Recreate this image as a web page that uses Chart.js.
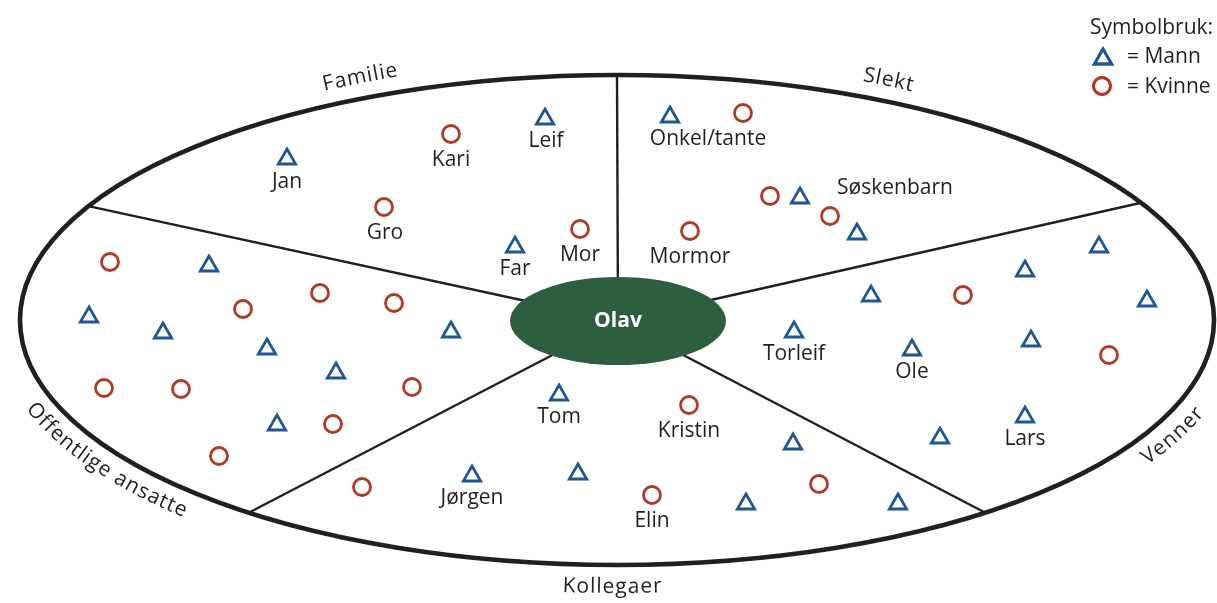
<!DOCTYPE html>
<html><head><meta charset="utf-8">
<script src="https://cdn.jsdelivr.net/npm/chart.js@4"></script>
<style>html,body{margin:0;padding:0;background:#fff}#wrap{width:1217px;height:603px;position:relative}</style>
</head><body><div id="wrap"><canvas id="c"></canvas></div>
<script>
// ---- data (diagram coordinates) ----
const mennX = [545,287,515,670,800,857,209,89,163,267,451,336,277,559,793,472,578,746,898,1099,1025,871,1147,794,912,1031,1025,940];
const mennY = [119,159,247,117,198,234,266,317,333,349,332,373,425,395,444,476,474,504,504,247,271,296,301,332,350,341,417,438];
const kvinnerX = [451,384,580,743,770,830,690,110,243,320,394,104,181,412,333,219,689,362,652,819,963,1109];
const kvinnerY = [134,207,229,113,196,216,231,262,309,293,303,388,389,387,424,456,405,487,495,484,295,355];
const navn  = ['Leif','Kari','Jan','Gro','Far','Mor','Onkel/tante','Søskenbarn','Mormor','Tom','Kristin','Jørgen','Elin','Torleif','Ole','Lars'];
const navnX = [546,451,287,385,515,580,708,895,690,559,689,472,652,794,912,1025];
const navnY = [141,160,182,233,269,255,139,188,257,417,431,498,521,354,372,439];
const sektorer = ['Familie','Slekt','Venner','Kollegaer','Offentlige ansatte'];
const sektorVinkel = [-114.6,-64,26,90.5,146.5];    // label position on ring (deg)
const skilleVinkel = [-90,-28.6,51.9,128.1,-152.3];  // dividing lines on ring (deg)
const sentrum = 'Olav';
const legendTittel = 'Symbolbruk:';
const legendTekst = ['= Mann','= Kvinne'];

const ring = {cx:617, cy:320, rx:597, ry:245};
const kjerne = {cx:618, cy:321, rx:108, ry:44};
const BLUE = '#1d5894', RED = '#b03a26', INK = '#231f20', GREEN = '#2d5e3f';
const FONT = '"Open Sans", sans-serif';

function textOnRing(ctx, text, cx, cy, A, B, phiDeg, top) {
  const phi0 = phiDeg*Math.PI/180;
  const speed = p => Math.hypot(A*Math.sin(p), B*Math.cos(p));
  const dir = top ? 1 : -1, step = 0.0005;
  const spacing = 0.8;
  let total = 0; for (const ch of text) total += ctx.measureText(ch).width + spacing;
  let p = phi0, rem = total/2;
  while (rem > 0) { rem -= speed(p)*step; p -= dir*step; }
  for (const ch of text) {
    const w = ctx.measureText(ch).width + spacing;
    let q = p, r = w/2;
    while (r > 0) { r -= speed(q)*step; q += dir*step; }
    const x = cx + A*Math.cos(q), y = cy + B*Math.sin(q);
    const ang = top ? Math.atan2(B*Math.cos(q), -A*Math.sin(q)) : Math.atan2(-B*Math.cos(q), A*Math.sin(q));
    ctx.save(); ctx.translate(x, y); ctx.rotate(ang);
    ctx.textAlign = 'center'; ctx.textBaseline = 'middle'; ctx.fillText(ch, 0, 0); ctx.restore();
    r = w; while (r > 0) { r -= speed(p)*step; p += dir*step; }
  }
}

const diagramPlugin = {
  id: 'diagram',
  beforeDatasetsDraw(chart) {
    const {ctx, scales:{x, y}} = chart;
    const px = v => x.getPixelForValue(v), py = v => y.getPixelForValue(v);
    const cx = px(ring.cx), cy = py(ring.cy);
    const A = px(ring.cx + ring.rx) - cx, B = py(ring.cy + ring.ry) - cy;
    ctx.save();
    ctx.strokeStyle = INK; ctx.lineWidth = 2.4;
    skilleVinkel.forEach(d => {
      const t = d*Math.PI/180;
      ctx.beginPath(); ctx.moveTo(cx + A*Math.cos(t), cy + B*Math.sin(t));
      ctx.lineTo(px(kjerne.cx), py(kjerne.cy)); ctx.stroke();
    });
    ctx.lineWidth = 4.6; ctx.beginPath(); ctx.ellipse(cx, cy, A, B, 0, 0, Math.PI*2); ctx.stroke();
    const kx = px(kjerne.cx), ky = py(kjerne.cy);
    ctx.fillStyle = GREEN; ctx.beginPath();
    ctx.ellipse(kx, ky, px(kjerne.cx + kjerne.rx) - kx, py(kjerne.cy + kjerne.ry) - ky, 0, 0, Math.PI*2); ctx.fill();
    ctx.fillStyle = '#fff'; ctx.font = 'bold 21px ' + FONT; ctx.textAlign = 'center'; ctx.textBaseline = 'middle';
    ctx.fillText(sentrum, kx, ky);
    ctx.fillStyle = INK; ctx.font = '21px ' + FONT;
    navn.forEach((n, i) => ctx.fillText(n, px(navnX[i]), py(navnY[i])));
    sektorer.forEach((s, i) => {
      const d = sektorVinkel[i];
      const top = Math.sin(d*Math.PI/180) < 0;
      textOnRing(ctx, s, cx, cy, A + 22, B + 22, d, top);
    });
    ctx.textAlign = 'left';
    ctx.fillText(legendTittel, 1090, 28);
    ctx.fillText(legendTekst[0], 1127, 57);
    ctx.fillText(legendTekst[1], 1127, 87);
    const H = Chart.helpers;
    ctx.lineWidth = 2.8;
    ctx.strokeStyle = BLUE; ctx.fillStyle = 'rgba(0,0,0,0)';
    H.drawPoint(ctx, {pointStyle:'triangle', radius:10, rotation:0, borderWidth:2.8}, 1103, 59); ctx.stroke();
    ctx.strokeStyle = RED;
    H.drawPoint(ctx, {pointStyle:'circle', radius:8.5, rotation:0, borderWidth:2.8}, 1102, 86); ctx.stroke();
    ctx.restore();
  }
};

new Chart(document.getElementById('c'), {
  type: 'scatter',
  data: {
    datasets: [
      {label:'Mann', data: mennX.map((v,i)=>({x:v, y:mennY[i]})), pointStyle:'triangle', pointRadius:10,
       borderColor:BLUE, backgroundColor:'rgba(0,0,0,0)', borderWidth:2.8},
      {label:'Kvinne', data: kvinnerX.map((v,i)=>({x:v, y:kvinnerY[i]})), pointStyle:'circle', pointRadius:8.5,
       borderColor:RED, backgroundColor:'rgba(0,0,0,0)', borderWidth:2.8}
    ]
  },
  options: {
    responsive: true, maintainAspectRatio: false, animation: false,
    layout: {padding: 0, autoPadding: false},
    plugins: {legend:{display:false}, tooltip:{enabled:false}},
    scales: {
      x: {type:'linear', min:0, max:1217, display:false},
      y: {type:'linear', min:0, max:603, reverse:true, display:false}
    },
    events: []
  },
  plugins: [diagramPlugin]
});
</script></body></html>
